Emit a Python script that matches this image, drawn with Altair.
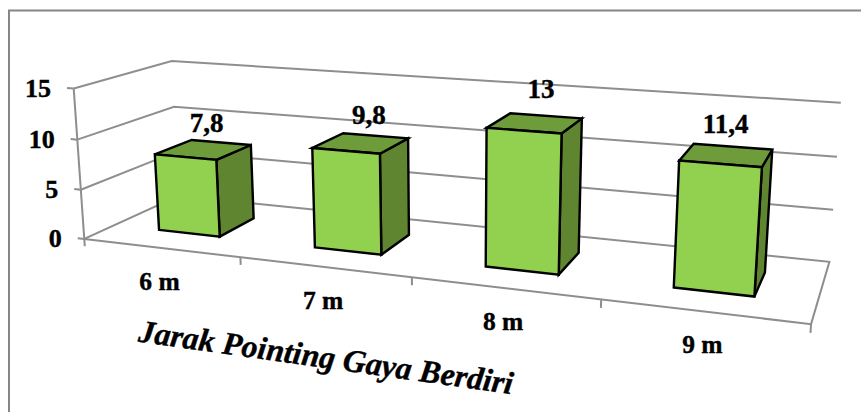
import altair as alt
import numpy as np

# Chart values
categories = ["6 m", "7 m", "8 m", "9 m"]
values = [7.8, 9.8, 13, 11.4]
value_labels = ["7,8", "9,8", "13", "11,4"]
y_ticks = [0, 5, 10, 15]
x_title = "Jarak Pointing Gaya Berdiri"

# Box proportions: bars take 40% of a category's width and of the floor depth
Y_MAX = 15
BAR_MARGIN = 0.3
BAR_SPAN = 0.4

FRONT = "#92D050"
SIDE = "#5F8530"
TOP = "#6E9C3A"
GRID = "#8E8E8E"
FRAME = "#868686"
FONT = "Liberation Serif"

# Camera calibration: box position (category, depth, value) -> screen position
def bar_refs(i, val, pts):
    u0, u1 = (i + BAR_MARGIN) / 4, (i + BAR_MARGIN + BAR_SPAN) / 4
    v0, v1 = BAR_MARGIN, BAR_MARGIN + BAR_SPAN
    keys = [(u0, v0, 0), (u1, v0, 0), (u0, v0, val), (u1, v0, val),
            (u0, v1, val), (u1, v1, val), (u1, v1, 0)]
    return [(k, p) for k, p in zip(keys, pts)]

refs = [
    ((0, 0, 0), (85, 238)), ((0, 0, 5), (81, 189)), ((0, 0, 10), (77, 139)), ((0, 0, 15), (73, 89)),
    ((0, 1, 15), (172, 62)), ((0, 1, 10), (174, 107)), ((0, 1, 0), (177, 197)),
    ((1, 1, 15), (841, 103)), ((1, 1, 10), (837, 157)), ((1, 1, 5), (833.5, 210)), ((1, 1, 0), (829, 261)),
    ((1, 0, 0), (811, 323)), ((.25, 0, 0), (240, 257)), ((.5, 0, 0), (412, 281)), ((.75, 0, 0), (601, 304)),
]
refs += bar_refs(0, values[0], [(159, 229), (220, 236), (155, 154), (217, 160), (192, 140), (251, 145), (254, 219)])
refs += bar_refs(1, values[1], [(315, 247), (382, 254), (312, 148), (380, 154), (343, 133), (408, 139), (410, 234)])
refs += bar_refs(2, values[2], [(485, 266), (558, 274), (487, 128), (562, 133), (510, 113), (582, 118), (579, 252)])
refs += bar_refs(3, values[3], [(673, 287), (754, 296), (679, 160), (762, 167), (693, 143), (772, 150), (766, 273)])

rows = []
for (u, v, w), (sx, sy) in refs:
    q = [u, v, w / Y_MAX, 1]
    x, y = sx / 400, sy / 400
    rows.append(q + [0, 0, 0, 0] + [-x * c for c in q])
    rows.append([0, 0, 0, 0] + q + [-y * c for c in q])
CAMERA = np.linalg.svd(np.array(rows))[2][-1].reshape(3, 4)


def project(u, v, w):
    a, b, c = CAMERA @ np.array([u, v, w / Y_MAX, 1.0])
    return [float(a / c * 400), float(b / c * 400)]


def shape(kind, points):
    coords = [project(*p) for p in points]
    if kind == "Polygon":
        return {"type": "Feature", "properties": {},
                "geometry": {"type": "Polygon", "coordinates": [coords + [coords[0]]]}}
    return {"type": "Feature", "properties": {},
            "geometry": {"type": "LineString", "coordinates": coords}}


# Walls, floor and ticks
grid = []
for t in y_ticks[1:]:
    grid.append(shape("LineString", [(0, 0, t), (0, 1, t), (1, 1, t)]))
grid.append(shape("LineString", [(0, 0, 0), (1, 0, 0), (1, 1, 0), (0, 1, 0), (0, 0, 0)]))
grid.append(shape("LineString", [(0, 0, 0), (0, 0, Y_MAX)]))
for t in y_ticks:
    grid.append(shape("LineString", [(-0.011, 0, t), (0, 0, t)]))
for i in range(len(categories) + 1):
    grid.append(shape("LineString", [(i / 4, 0, 0), (i / 4, 0, -0.75)]))

# Bar faces
fronts, sides, tops = [], [], []
for i, val in enumerate(values):
    u0, u1 = (i + BAR_MARGIN) / 4, (i + BAR_MARGIN + BAR_SPAN) / 4
    v0, v1 = BAR_MARGIN, BAR_MARGIN + BAR_SPAN
    fronts.append(shape("Polygon", [(u0, v0, 0), (u1, v0, 0), (u1, v0, val), (u0, v0, val)]))
    sides.append(shape("Polygon", [(u1, v0, 0), (u1, v1, 0), (u1, v1, val), (u1, v0, val)]))
    tops.append(shape("Polygon", [(u0, v0, val), (u1, v0, val), (u1, v1, val), (u0, v1, val)]))

# Text positions follow the projected scene, with a small nudge per value label
label_nudge = [(3, -26), (8, -27), (6, -33), (-1, -30)]
value_rows = []
for i, (val, lab) in enumerate(zip(values, value_labels)):
    x, y = project((i + 0.5) / 4, 0.5, val)
    value_rows.append({"x": x + label_nudge[i][0], "y": y + label_nudge[i][1], "t": lab})
cat_rows = []
for i, lab in enumerate(categories):
    x, y = project((i + 0.5) / 4, 0, 0)
    cat_rows.append({"x": x - 1, "y": y + 34, "t": lab})
tick_rows = []
for t in y_ticks:
    x, y = project(-0.011, 0, t)
    tick_rows.append({"x": x - 16, "y": y + 1, "t": str(t)})

proj = alt.Projection(type="identity", scale=1, translate=[0, 0])
x_enc = alt.X("x:Q", scale=alt.Scale(domain=[0, 861], range=[0, 861]), axis=None)
y_enc = alt.Y("y:Q", scale=alt.Scale(domain=[0, 412], range=[0, 412]), axis=None)


def geo(features, **mark):
    return alt.Chart(alt.Data(values=features)).mark_geoshape(**mark).project(**proj.to_dict())


def label(rows, **mark):
    return alt.Chart(alt.Data(values=rows)).mark_text(
        font=FONT, fontWeight="bold", color="black", baseline="middle",
        stroke="black", strokeWidth=0.4, **mark
    ).encode(x=x_enc, y=y_enc, text="t:N")


frame_rows = [{"x": 9, "y": 412, "o": 0}, {"x": 9, "y": 10.5, "o": 1}, {"x": 861, "y": 10.5, "o": 2}]
frame = alt.Chart(alt.Data(values=frame_rows)).mark_line(color=FRAME, strokeWidth=2).encode(
    x=x_enc, y=y_enc, order="o:Q"
)

layers = [
    frame,
    geo(grid, filled=False, stroke=GRID, strokeWidth=2),
    geo(sides, filled=True, fill=SIDE, stroke="black", strokeWidth=2.4),
    geo(tops, filled=True, fill=TOP, stroke="black", strokeWidth=2.4),
    geo(fronts, filled=True, fill=FRONT, stroke="black", strokeWidth=2.4),
    label(tick_rows, fontSize=26, align="right"),
    label(cat_rows, fontSize=25.5, align="center"),
    label(value_rows, fontSize=27, align="center"),
    label([{"x": 326, "y": 358, "t": x_title}], fontSize=32, align="center", angle=8, fontStyle="italic"),
]

chart = alt.layer(*layers).properties(
    width=861, height=412, padding=0, autosize=alt.AutoSizeParams(type="none"), background="white"
).configure_view(stroke=None)

chart.save("out.html", embed_options={"renderer": "svg", "actions": False})
